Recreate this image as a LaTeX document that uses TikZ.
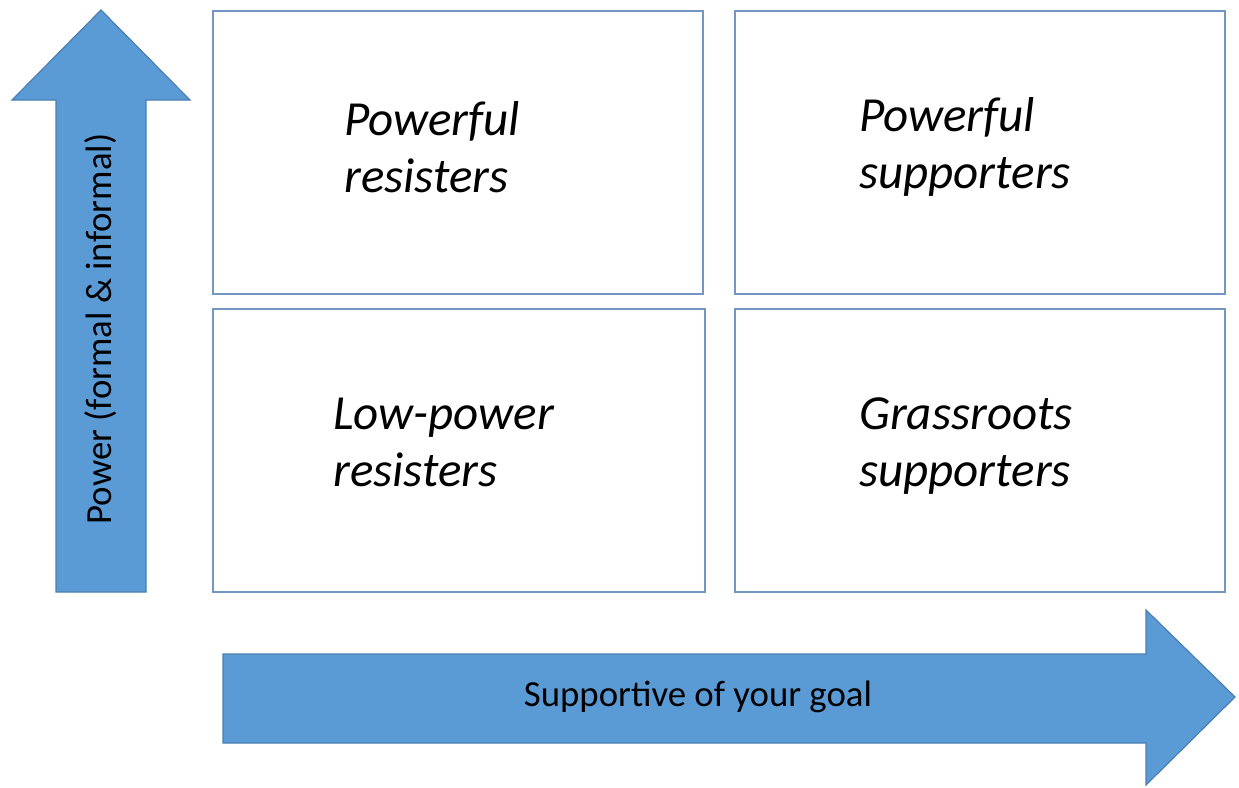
\documentclass[tikz,border=0pt]{standalone}
\usepackage{fontspec}
\setmainfont{Carlito}
\begin{document}
\begin{tikzpicture}[x=1pt,y=-1pt,
  arrowfill/.style={fill=arrowblue,draw=arrowedge,line width=1.2pt,line join=miter},
  quad/.style={draw=boxedge,line width=1.6pt,fill=white},
  qtext/.style={anchor=base west,inner sep=0pt,font=\fontsize{49}{56}\selectfont\itshape},
  axtext/.style={inner sep=0pt,font=\fontsize{36.8}{42}\selectfont}]
\definecolor{arrowblue}{HTML}{5B9BD5}
\definecolor{arrowedge}{HTML}{4A7EB0}
\definecolor{boxedge}{HTML}{7397C2}
\useasboundingbox (0,0) rectangle (1239,787);
% vertical arrow
\draw[arrowfill] (101,10) -- (190,100) -- (146,100) -- (146,592) -- (56,592) -- (56,100) -- (12,100) -- cycle;
\node[axtext,rotate=90] (vlab) at (101,329) {Power (formal \& informal)};
% horizontal arrow
\draw[arrowfill] (223,654) -- (1146,654) -- (1146,610) -- (1235,697) -- (1146,785) -- (1146,743) -- (223,743) -- cycle;
\node[axtext] (hlab) at (698,697) {Supportive of your goal};
% quadrants
\draw[quad] (213,11) rectangle (703,294);
\draw[quad] (735,11) rectangle (1225,294);
\draw[quad] (213,309) rectangle (705,592);
\draw[quad] (735,309) rectangle (1225,592);
\node[qtext] (tl1) at (344,135) {Powerful};
\node[qtext] (tl2) at (344,192) {resisters};
\node[qtext] (tr1) at (859,131) {Powerful};
\node[qtext] (tr2) at (859,188) {supporters};
\node[qtext] (bl1) at (333,429) {Low-power};
\node[qtext] (bl2) at (333,486) {resisters};
\node[qtext] (br1) at (859,429) {Grassroots};
\node[qtext] (br2) at (859,486) {supporters};
\end{tikzpicture}
\end{document}
